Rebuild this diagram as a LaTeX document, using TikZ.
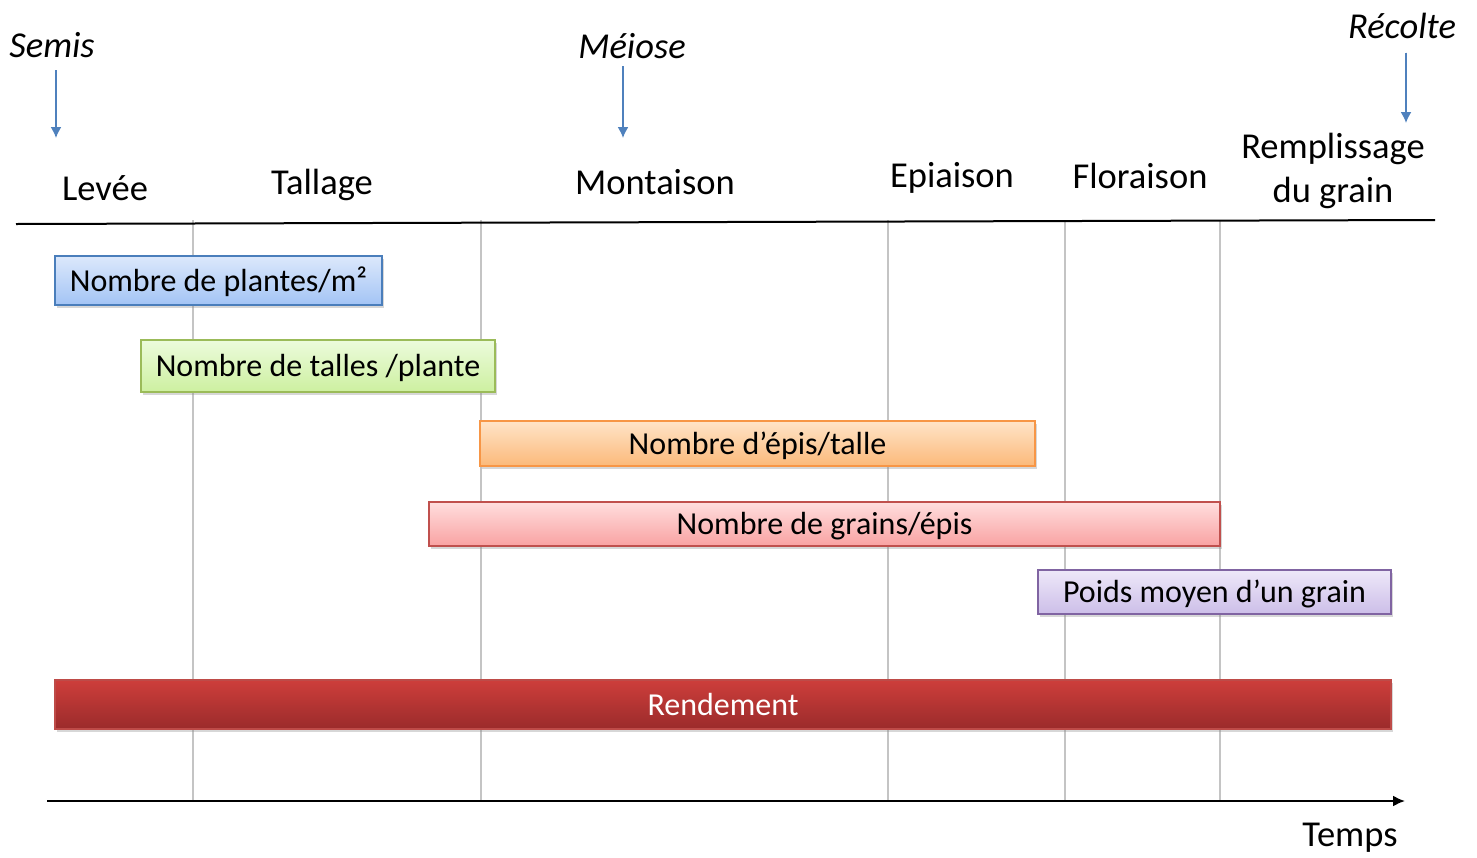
\documentclass[tikz,border=0pt]{standalone}
\usepackage{fontspec}
\setmainfont{Carlito}
\usepackage{tikz}
\usetikzlibrary{shadows}
\usetikzlibrary{arrows.meta}

\begin{document}
\begin{tikzpicture}[x=1pt,y=-1pt,thick,
	bar node/.style={rectangle,draw,line width=2pt,minimum height=46pt,inner sep=0pt,
		font=\fontsize{32}{38}\selectfont,text height=28pt,text depth=6.4pt,
		drop shadow={shadow xshift=2pt,shadow yshift=-3pt,opacity=0.35,fill=black!45}},
	stage node/.style={font=\fontsize{36.5}{44}\selectfont,align=center},
	event node/.style={font=\fontsize{36.5}{44}\selectfont\itshape},
	event arrow/.style={-{Latex[length=11pt,width=11pt]},draw=evblue,fill=evblue,line width=1.6pt,shorten <=4pt}]
	
	\definecolor{evblue}{RGB}{79,129,189}
	\definecolor{gridgray}{RGB}{196,196,196}
	\definecolor{bluetop}{RGB}{220,232,251}   \definecolor{bluebot}{RGB}{163,196,245}  \definecolor{blueline}{RGB}{74,126,187}
	\definecolor{greentop}{RGB}{236,251,220}  \definecolor{greenbot}{RGB}{205,240,160} \definecolor{greenline}{RGB}{155,187,89}
	\definecolor{orangetop}{RGB}{255,228,200} \definecolor{orangebot}{RGB}{251,185,122} \definecolor{orangeline}{RGB}{247,150,70}
	\definecolor{pinktop}{RGB}{255,222,222}   \definecolor{pinkbot}{RGB}{249,162,162}  \definecolor{pinkline}{RGB}{192,80,77}
	\definecolor{lilactop}{RGB}{238,232,249}  \definecolor{lilacbot}{RGB}{204,190,232} \definecolor{lilacline}{RGB}{128,100,162}
	\definecolor{redtop}{RGB}{205,62,59}      \definecolor{redbot}{RGB}{155,43,43}     \definecolor{redline}{RGB}{190,75,72}
	
	\useasboundingbox (0,0) rectangle (1477,857);
	
	% phases
	\foreach \x in {193,481,888,1065,1220}
	\draw[gridgray,line width=1.6pt] (\x,220) -- (\x,801);
	\draw[line width=2pt] (16,224) -- (1435,220);
	\draw[-{Latex[length=12pt,width=11pt]},line width=2pt] (47,801) -- (1405,801);
	\node[stage node] (temps) at (1350,838) {Temps};
	
	\node[stage node] (levee) at (105,188) {Levée};
	\node[stage node] (tallage) at (322,185) {Tallage};
	\node[stage node] (montaison) at (655,182) {Montaison};
	\node[stage node] (epiaison) at (952,178) {Epiaison};
	\node[stage node] (floraison) at (1140,176) {Floraison};
	\node[stage node] (remplissage) at (1333,171) {Remplissage\\du grain};
	
	% events
	\node[event node] (semis) at (52,45) {Semis};
	\node[event node] (meiose) at (632,46) {Méiose};
	\node[event node] (recolte) at (1402,26) {Récolte};
	\coordinate (semis tip) at (56,138);
	\coordinate (meiose tip) at (623,138);
	\coordinate (recolte tip) at (1406,123);
	\draw[event arrow,shorten <=9pt] (semis.south -| semis tip) -- (semis tip);
	\draw[event arrow] (meiose.south -| meiose tip) -- (meiose tip);
	\draw[event arrow,shorten <=10pt] (recolte.south -| recolte tip) -- (recolte tip);
	
	% composantes
	\node[bar node,draw=blueline,top color=bluetop,bottom color=bluebot,minimum width=327pt,minimum height=49pt]
		(plantes) at (218.5,280.5) {Nombre de plantes/m²};
	\node[bar node,draw=greenline,top color=greentop,bottom color=greenbot,minimum width=354pt,minimum height=52pt]
		(talles) at (318,366) {Nombre de talles /plante};
	\node[bar node,draw=orangeline,top color=orangetop,bottom color=orangebot,minimum width=555pt,minimum height=45pt]
		(epis) at (757.5,443.5) {Nombre d’épis/talle};
	\node[bar node,draw=pinkline,top color=pinktop,bottom color=pinkbot,minimum width=791pt,minimum height=44pt]
		(grains) at (824.5,524) {Nombre de grains/épis};
	\node[bar node,draw=lilacline,top color=lilactop,bottom color=lilacbot,minimum width=353pt,minimum height=44pt]
		(poids) at (1214.5,592) {Poids moyen d’un grain};
	\node[bar node,draw=redline,top color=redtop,bottom color=redbot,text=white,minimum width=1336pt,minimum height=49pt]
		(rendement) at (723,704.5) {Rendement};
\end{tikzpicture}
\end{document}
